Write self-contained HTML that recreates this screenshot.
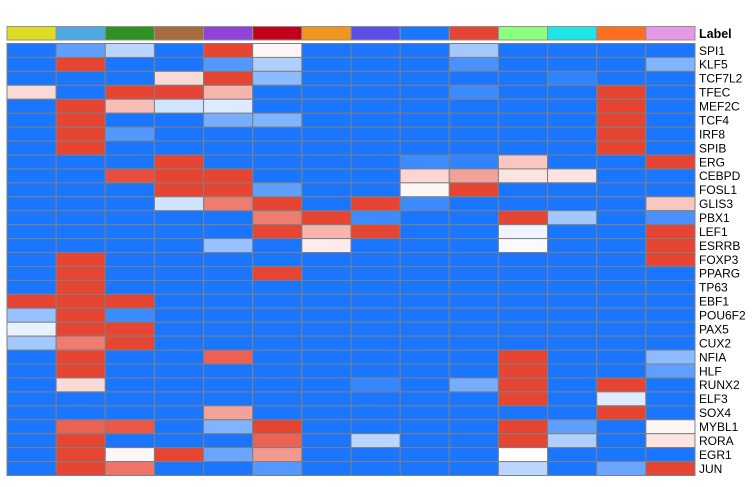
<!DOCTYPE html>
<html><head><meta charset="utf-8"><style>
body{margin:0;background:#fff;}
svg text{font-family:"Liberation Sans",sans-serif;}
</style></head><body>
<svg id="chart" width="755" height="482" xmlns="http://www.w3.org/2000/svg">
<g id="annot"></g>
<g id="cells"></g>
<g id="labels"></g>
<text x="699" y="38" font-size="12.5" font-weight="bold">Label</text>
</svg>
<script>
const rowLabels=["SPI1","KLF5","TCF7L2","TFEC","MEF2C","TCF4","IRF8","SPIB","ERG","CEBPD","FOSL1","GLIS3","PBX1","LEF1","ESRRB","FOXP3","PPARG","TP63","EBF1","POU6F2","PAX5","CUX2","NFIA","HLF","RUNX2","ELF3","SOX4","MYBL1","RORA","EGR1","JUN"];
const annotColors=["#e0dc24","#4fa8e3","#2e9322","#a86b3d","#8e44d9","#c3001a","#f0961e","#5a4fe6","#1a75ff","#e64533","#8cff80","#1ee6e6","#ff6d1f","#e69ae6"];
// sparse values: [row, col, value]; default -1
const overrides=[
[0,1,-0.7],[0,2,-0.3],[0,4,1],[0,5,0.05],[0,9,-0.4],
[1,1,1],[1,4,-0.75],[1,5,-0.35],[1,9,-0.8],[1,13,-0.55],
[2,3,0.2],[2,4,1],[2,5,-0.5],[2,11,-0.9],
[3,0,0.2],[3,2,1],[3,3,1],[3,4,0.4],[3,9,-0.85],[3,12,1],
[4,1,1],[4,2,0.35],[4,3,-0.2],[4,4,-0.15],[4,12,1],
[5,1,1],[5,4,-0.6],[5,5,-0.55],[5,12,1],
[6,1,1],[6,2,-0.75],[6,12,1],
[7,1,1],[7,12,1],
[8,3,1],[8,8,-0.85],[8,9,-0.9],[8,10,0.3],[8,13,1],
[9,2,0.95],[9,3,1],[9,4,1],[9,8,0.22],[9,9,0.5],[9,10,0.15],[9,11,0.15],
[10,3,1],[10,4,1],[10,5,-0.7],[10,8,0.05],[10,9,1],
[11,3,-0.2],[11,4,0.7],[11,5,1],[11,7,1],[11,8,-0.85],[11,13,0.3],
[12,5,0.7],[12,6,1],[12,7,-0.85],[12,10,1],[12,11,-0.4],[12,13,-0.8],
[13,5,1],[13,6,0.4],[13,7,1],[13,10,-0.07],[13,13,1],
[14,4,-0.45],[14,6,0.1],[14,10,-0.03],[14,13,1],
[15,1,1],[15,13,1],
[16,1,1],[16,5,1],
[17,1,1],
[18,0,1],[18,1,1],[18,2,1],
[19,0,-0.45],[19,1,1],[19,2,-0.85],
[20,0,-0.1],[20,1,1],[20,2,1],
[21,0,-0.4],[21,1,0.7],[21,2,1],
[22,1,1],[22,4,0.85],[22,10,1],[22,13,-0.5],
[23,1,1],[23,10,1],[23,13,-0.7],
[24,1,0.2],[24,7,-0.88],[24,9,-0.6],[24,10,1],[24,12,1],
[25,10,1],[25,12,-0.15],
[26,4,0.5],[26,12,1],
[27,1,0.85],[27,2,0.9],[27,4,-0.55],[27,5,1],[27,10,1],[27,11,-0.7],[27,13,0.05],
[28,1,1],[28,5,0.85],[28,7,-0.3],[28,10,1],[28,11,-0.35],[28,13,0.15],
[29,1,1],[29,2,0.05],[29,3,1],[29,4,-0.65],[29,5,0.55],[29,10,0],
[30,1,1],[30,2,0.75],[30,5,-0.75],[30,10,-0.3],[30,12,-0.65],[30,13,1]
];
const NS="http://www.w3.org/2000/svg";
const nRows=rowLabels.length, nCols=annotColors.length;
const x0=7,x1=695,y0=43.5,y1=475.5;
const cw=(x1-x0)/nCols, ch=(y1-y0)/nRows;
function xPos(c){return x0+c*cw;}
function yPos(r){return y0+r*ch;}
function color(v){
  const B=[26,118,255],W=[255,255,255],R=[231,69,51];
  let a,b,t; if(v<0){a=W;b=B;t=-v;}else{a=W;b=R;t=v;}
  t=Math.min(1,t);
  return "rgb("+a.map((x,i)=>Math.round(x+(b[i]-x)*t)).join(",")+")";
}
const vals=[];for(let r=0;r<nRows;r++){vals.push(new Array(nCols).fill(-1));}
overrides.forEach(o=>{vals[o[0]][o[1]]=o[2];});
const ag=document.getElementById('annot');
annotColors.forEach((c,i)=>{
  const el=document.createElementNS(NS,'rect');
  
  
  el.setAttribute('x',xPos(i));el.setAttribute('y',26.5);
  el.setAttribute('width',cw);el.setAttribute('height',13.5);
  el.setAttribute('fill',c);el.setAttribute('stroke','#909090');el.setAttribute('stroke-width','1');
  ag.appendChild(el);
});
const cg=document.getElementById('cells');
for(let r=0;r<nRows;r++)for(let c=0;c<nCols;c++){
  const el=document.createElementNS(NS,'rect');
  
  
  el.setAttribute('x',xPos(c));el.setAttribute('y',yPos(r));
  el.setAttribute('width',cw);el.setAttribute('height',ch);
  el.setAttribute('fill',color(vals[r][c]));el.setAttribute('stroke','#808080');el.setAttribute('stroke-width','1');
  cg.appendChild(el);
}
const lg=document.getElementById('labels');
rowLabels.forEach((l,r)=>{
  const t=document.createElementNS(NS,'text');
  
  
  t.setAttribute('x',699);t.setAttribute('y',yPos(r)+ch/2+4.3);
  t.setAttribute('font-size','12');t.textContent=l;
  lg.appendChild(t);
});
</script>
</body></html>
